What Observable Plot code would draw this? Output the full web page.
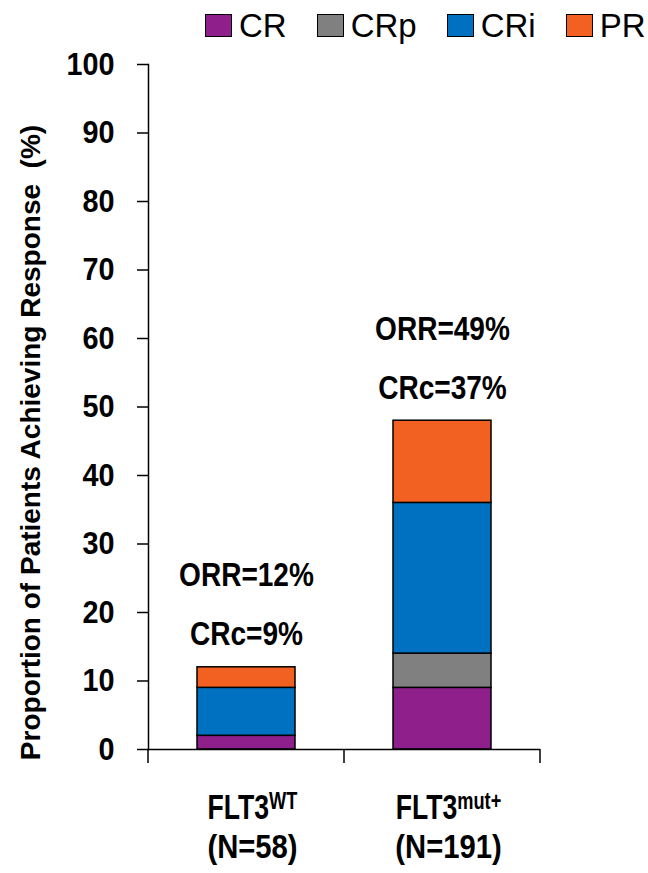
<!DOCTYPE html>
<html><head><meta charset="utf-8">
<script src="https://cdn.jsdelivr.net/npm/d3@7"></script>
<script src="https://cdn.jsdelivr.net/npm/@observablehq/plot@0.6"></script>
<style>
body{margin:0;background:#fff;}
#legend{height:44px;padding-top:6px;display:flex;align-items:center;padding-left:205px;box-sizing:border-box;font-family:"Liberation Sans",Arial,sans-serif;font-size:33px;color:#000;}
.item{display:flex;align-items:center;margin-right:30px;line-height:33px;}
.sw{width:27px;height:23px;border:1.5px solid #000;box-sizing:border-box;margin-right:7px;}
</style></head><body>
<div id="legend"></div>
<div id="chart"></div>
<script>
const groups = ["FLT3WT", "FLT3mut+"];
const groupBase = ["FLT3", "FLT3"];
const groupSup = ["WT", "mut+"];
const groupN = ["(N=58)", "(N=191)"];
const series = ["CR", "CRp", "CRi", "PR"];
const colors = ["#8E1F8B", "#808080", "#0070C0", "#F26122"];
const CR = [2, 9];
const CRp = [0, 5];
const CRi = [7, 22];
const PR = [3, 12];
const orrLabels = ["ORR=12%", "ORR=49%"];
const crcLabels = ["CRc=9%", "CRc=37%"];
const yTicks = [0, 10, 20, 30, 40, 50, 60, 70, 80, 90, 100];
const yLabel = "Proportion of Patients Achieving Response\u00a0 (%)";

const bold = "'Liberation Sans', Arial, sans-serif";
const seriesVals = [CR, CRp, CRi, PR];
const data = [];
groups.forEach((g, i) => series.forEach((s, j) => data.push({group: g, series: s, value: seriesVals[j][i]})));
const totals = groups.map((g, i) => seriesVals.reduce((a, v) => a + v[i], 0));
const ann = groups.map((g, i) => ({group: g, total: totals[i], orr: orrLabels[i], crc: crcLabels[i], base: groupBase[i], sup: groupSup[i], n: groupN[i]}));

// legend
const leg = d3.select("#legend");
series.forEach((s, i) => {
  const it = leg.append("div").attr("class", "item");
  it.append("div").attr("class", "sw").style("background", colors[i]);
  it.append("span").text(s);
});

const plot = Plot.plot({
  width: 648,
  height: 829,
  marginTop: 20,
  marginBottom: 124,
  marginLeft: 148,
  marginRight: 108,
  style: {fontFamily: bold, fontWeight: "bold", color: "#000", background: "#fff", overflow: "visible"},
  x: {type: "band", domain: groups, padding: 0, axis: null},
  y: {domain: [0, 100], axis: null},
  color: {domain: series, range: colors},
  marks: [
    Plot.barY(data, {x: "group", y: "value", fill: "series", order: series, stroke: "#000", strokeWidth: 1.5, insetLeft: 49, insetRight: 49}),
    Plot.ruleY([0], {stroke: "#000", strokeWidth: 1.5}),
    Plot.frame({anchor: "left", stroke: "#000", strokeWidth: 1.5}),
    Plot.axisY({ticks: yTicks, tickSize: 11, tickPadding: 23, fontSize: 32, fontWeight: "bold", label: null, stroke: "#000", strokeWidth: 1.5}),
    Plot.text(ann, {x: "group", y: "total", text: "orr", dy: -81, lineAnchor: "bottom", fontSize: 33, fontWeight: "bold", fill: "#000"}),
    Plot.text(ann, {x: "group", y: "total", text: "crc", dy: -22, lineAnchor: "bottom", fontSize: 33, fontWeight: "bold", fill: "#000"}),
    Plot.text(ann, {x: "group", frameAnchor: "bottom", text: d => d.base + d.sup, dx: 6, dy: 69, lineAnchor: "bottom", fontSize: 35, fontWeight: "bold", fill: "#000"}),
    Plot.text(ann, {x: "group", frameAnchor: "bottom", text: "n", dx: 6, dy: 108, lineAnchor: "bottom", fontSize: 34, fontWeight: "bold", fill: "#000"}),
    Plot.text([yLabel], {frameAnchor: "left", text: d => d, rotate: -90, textAnchor: "middle", dx: -109, dy: 35.5, lineAnchor: "bottom", fontSize: 28, fontWeight: "bold", fill: "#000"})
  ]
});
document.getElementById("chart").appendChild(plot);

// x-axis boundary ticks from the x scale's range
const xs = plot.scale("x"), ys = plot.scale("y");
const [r0, r1] = xs.range;
const bounds = d3.range(groups.length + 1).map(i => r0 + i * (r1 - r0) / groups.length);
const y0 = ys.apply(0);
d3.select(plot).append("g").attr("stroke", "#000").attr("stroke-width", 1.5)
  .selectAll("line").data(bounds).join("line")
  .attr("x1", d => d).attr("x2", d => d).attr("y1", y0).attr("y2", y0 + 14);

// condensed look of the bold labels + superscripts
const condense = (el, s) => {
  let tr = el.getAttribute("transform");
  if (tr == null) {
    const x = el.getAttribute("x") || 0, y = el.getAttribute("y") || 0;
    el.removeAttribute("x"); el.removeAttribute("y");
    tr = `translate(${x},${y})`;
  }
  el.setAttribute("transform", tr + ` scale(${s},1)`);
};
const tickStr = yTicks.map(String);
d3.select(plot).selectAll("text").each(function() {
  const t = this.textContent;
  const gi = groupBase.findIndex((b, k) => b + groupSup[k] === t);
  if (gi >= 0) {
    this.textContent = groupBase[gi];
    d3.select(this).append("tspan").attr("font-size", 24).attr("dy", -10).text(groupSup[gi]);
    condense(this, 0.76);
  } else if (groupN.includes(t)) condense(this, 0.86);
  else if (orrLabels.includes(t) || crcLabels.includes(t)) condense(this, 0.85);
  else if (tickStr.includes(t)) condense(this, 0.9);
});
</script>
</body></html>
